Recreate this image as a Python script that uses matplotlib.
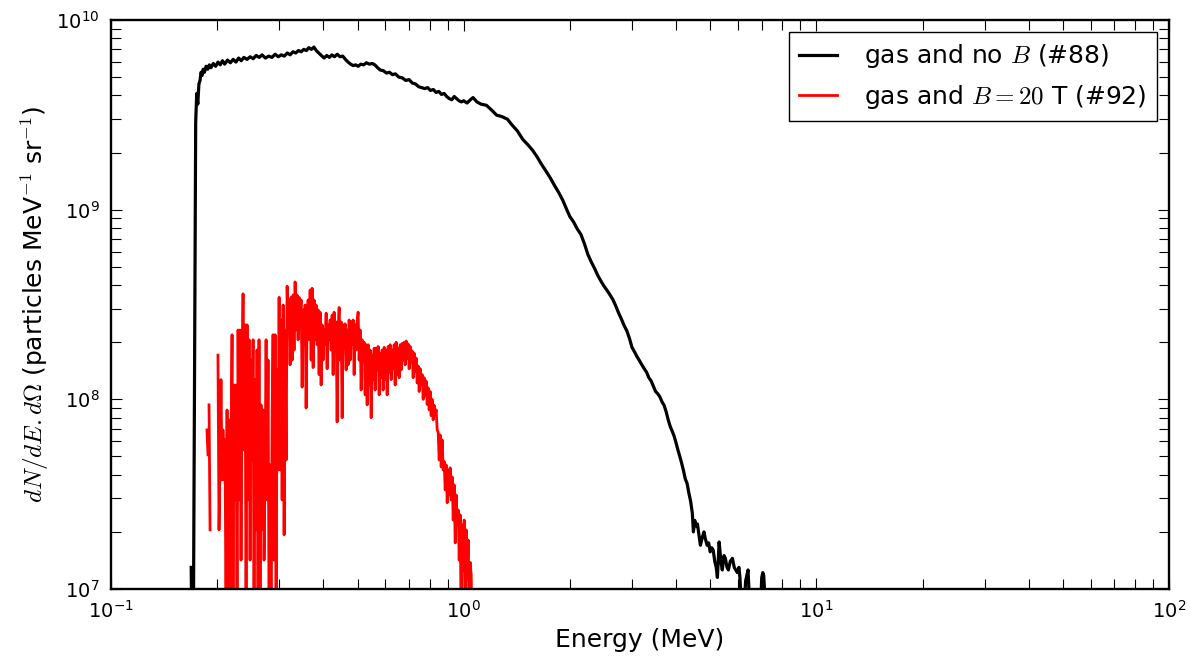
import numpy as np
import matplotlib
matplotlib.use("Agg")
import matplotlib.pyplot as plt

# old-style look: cm math, inward ticks on every side
plt.rcParams['mathtext.fontset'] = 'cm'
plt.rcParams['font.family'] = ['DejaVu Sans']
plt.rcParams['axes.unicode_minus'] = False

nan = np.nan

# spectrum without magnetic field (#88)
black_energy = [
    0.1688, 0.1694, 0.1712, 0.1738, 0.1750, 0.1762, 0.1775, 0.1788, 0.1800, 0.1812,
    0.1825, 0.184, 0.186, 0.188, 0.190, 0.192, 0.195, 0.198, 0.201, 0.204,
    0.207, 0.210, 0.214, 0.218, 0.222, 0.226, 0.230, 0.234, 0.238, 0.243,
    0.248, 0.253, 0.258, 0.263, 0.268, 0.274, 0.280, 0.286, 0.292, 0.298,
    0.304, 0.310, 0.316, 0.322, 0.328, 0.334, 0.340, 0.346, 0.352, 0.358,
    0.364, 0.370, 0.376, 0.382, 0.388, 0.395, 0.402, 0.409, 0.416, 0.423,
    0.430, 0.438, 0.446, 0.454, 0.462, 0.470, 0.478, 0.486, 0.494, 0.502,
    0.511, 0.520, 0.530, 0.540, 0.550, 0.560, 0.570, 0.580, 0.592, 0.604,
    0.616, 0.628, 0.640, 0.655, 0.670, 0.685, 0.700, 0.715, 0.730, 0.745,
    0.760, 0.775, 0.790, 0.805, 0.820, 0.835, 0.850, 0.865, 0.880, 0.895,
    0.910, 0.925, 0.940, 0.955, 0.970, 0.985, 1.000, 1.022, 1.045, 1.063,
    1.09, 1.12, 1.16, 1.20, 1.24, 1.28, 1.33, 1.37, 1.42, 1.47,
    1.52, 1.57, 1.62, 1.66, 1.71, 1.76, 1.81, 1.86, 1.91, 1.96,
    2.00, 2.05, 2.10, 2.15, 2.20, 2.25, 2.30, 2.35, 2.40, 2.45,
    2.50, 2.55, 2.60, 2.65, 2.70, 2.75, 2.80, 2.85, 2.90, 2.95,
    3.00, 3.05, 3.10, 3.15, 3.20, 3.25, 3.30, 3.35, 3.40, 3.45,
    3.50, 3.55, 3.60, 3.65, 3.70, 3.75, 3.80, 3.85, 3.90, 3.95,
    4.00, 4.05, 4.10, 4.15, 4.20, 4.25, 4.30, 4.35, 4.40, 4.45,
    4.48, 4.52, 4.56, 4.60, 4.65, 4.69, 4.74, 4.80, 4.84, 4.90,
    4.95, 5.00, 5.05, 5.10, 5.15, 5.20, 5.24, 5.30, 5.36, 5.41,
    5.47, 5.52, 5.58, 5.63, 5.70, 5.78, 5.85, 5.92, 5.97, 6.03,
    6.07, 6.19, 6.30, 6.40, 6.52, 6.90, 7.00, 7.05, 7.09, 7.23,
]
black_dn = [
    1.3e7, 6e6, 6e6, 2.9e9, 4.1e9, 3.6e9, 4.6e9, 4.8e9, 5.3e9, 5.1e9,
    5.5e9, 5.3e9, 5.7e9, 5.5e9, 5.8e9, 5.6e9, 5.9e9, 5.7e9, 6.0e9, 5.8e9,
    6.1e9, 5.85e9, 6.15e9, 5.95e9, 6.2e9, 6.0e9, 6.3e9, 6.1e9, 6.35e9, 6.2e9,
    6.4e9, 6.25e9, 6.5e9, 6.35e9, 6.55e9, 6.3e9, 6.45e9, 6.35e9, 6.6e9, 6.4e9,
    6.55e9, 6.45e9, 6.7e9, 6.55e9, 6.8e9, 6.7e9, 6.9e9, 6.8e9, 7.0e9, 6.9e9,
    7.15e9, 7.0e9, 7.2e9, 6.9e9, 6.7e9, 6.5e9, 6.3e9, 6.5e9, 6.35e9, 6.55e9,
    6.4e9, 6.6e9, 6.4e9, 6.45e9, 6.2e9, 6.0e9, 5.85e9, 5.75e9, 5.8e9, 5.7e9,
    5.85e9, 5.8e9, 5.95e9, 5.85e9, 5.9e9, 5.8e9, 5.6e9, 5.45e9, 5.4e9, 5.25e9,
    5.3e9, 5.15e9, 5.2e9, 5.0e9, 4.95e9, 4.8e9, 4.85e9, 4.65e9, 4.6e9, 4.45e9,
    4.4e9, 4.35e9, 4.4e9, 4.25e9, 4.3e9, 4.15e9, 4.2e9, 4.05e9, 4.1e9, 3.95e9,
    3.85e9, 3.8e9, 3.95e9, 3.85e9, 3.75e9, 3.7e9, 3.75e9, 3.65e9, 3.8e9, 3.9e9,
    3.7e9, 3.6e9, 3.55e9, 3.35e9, 3.15e9, 3.1e9, 3.0e9, 2.8e9, 2.6e9, 2.35e9,
    2.2e9, 2.05e9, 1.88e9, 1.74e9, 1.6e9, 1.47e9, 1.34e9, 1.23e9, 1.12e9, 1.0e9,
    9.2e8, 8.6e8, 7.9e8, 7.4e8, 6.6e8, 5.8e8, 5.3e8, 4.9e8, 4.5e8, 4.2e8,
    3.95e8, 3.75e8, 3.55e8, 3.35e8, 3.1e8, 2.85e8, 2.65e8, 2.45e8, 2.3e8, 2.1e8,
    1.88e8, 1.78e8, 1.68e8, 1.6e8, 1.52e8, 1.45e8, 1.39e8, 1.3e8, 1.25e8, 1.17e8,
    1.1e8, 1.07e8, 1.03e8, 9.7e7, 9.3e7, 8.6e7, 7.8e7, 7.2e7, 6.8e7, 6.4e7,
    5.9e7, 5.4e7, 5.0e7, 4.6e7, 4.2e7, 3.8e7, 3.6e7, 3.2e7, 2.9e7, 2.5e7,
    2.0e7, 2.3e7, 2.15e7, 2.2e7, 1.9e7, 1.7e7, 1.85e7, 2.0e7, 1.85e7, 1.7e7,
    1.75e7, 1.57e7, 1.65e7, 1.6e7, 1.4e7, 1.3e7, 1.15e7, 1.77e7, 1.4e7, 1.26e7,
    1.5e7, 1.45e7, 1.3e7, 1.26e7, 1.4e7, 1.45e7, 1.3e7, 1.25e7, 1.22e7, 1.3e7,
    1.15e7, 6e6, 1.1e7, 1.26e7, 6e6, 6e6, 1.15e7, 1.22e7, 1.18e7, 6e6,
]

# spectrum with B = 20 T (#92), nan = empty bin
red_energy = [
    0.1871, 0.1883, 0.1890, 0.1896, 0.1909, 0.1950, 0.2010, 0.2024, 0.2037, 0.2050,
    0.2064, 0.2077, 0.2091, 0.2105, 0.2119, 0.2133, 0.2147, 0.2161, 0.2175, 0.2189,
    0.2204, 0.2218, 0.2233, 0.2247, 0.2262, 0.2277, 0.2292, 0.2307, 0.2322, 0.2337,
    0.2353, 0.2368, 0.2384, 0.2399, 0.2415, 0.2431, 0.2447, 0.2463, 0.2479, 0.2495,
    0.2511, 0.2528, 0.2544, 0.2561, 0.2578, 0.2594, 0.2611, 0.2628, 0.2646, 0.2663,
    0.2680, 0.2698, 0.2716, 0.2734, 0.2752, 0.2770, 0.2788, 0.2806, 0.2825, 0.2843,
    0.2862, 0.2880, 0.2899, 0.2919, 0.2938, 0.2957, 0.2976, 0.2996, 0.3016, 0.3036,
    0.3056, 0.3076, 0.3096, 0.3116, 0.3137, 0.3157, 0.3178, 0.3199, 0.3219, 0.3240,
    0.3262, 0.3283, 0.3304, 0.3326, 0.3348, 0.3370, 0.3392, 0.3414, 0.3437, 0.3459,
    0.3482, 0.3505, 0.3528, 0.3551, 0.3574, 0.3598, 0.3621, 0.3645, 0.3669, 0.3693,
    0.3717, 0.3742, 0.3766, 0.3790, 0.3815, 0.3840, 0.3865, 0.3890, 0.3916, 0.3942,
    0.3967, 0.3993, 0.4020, 0.4046, 0.4073, 0.4099, 0.4126, 0.4153, 0.4181, 0.4208,
    0.4236, 0.4263, 0.4291, 0.4320, 0.4348, 0.4376, 0.4405, 0.4434, 0.4463, 0.4492,
    0.4522, 0.4551, 0.4581, 0.4611, 0.4641, 0.4672, 0.4702, 0.4733, 0.4764, 0.4795,
    0.4827, 0.4858, 0.4890, 0.4922, 0.4954, 0.4987, 0.5019, 0.5052, 0.5086, 0.5119,
    0.5153, 0.5186, 0.5220, 0.5255, 0.5289, 0.5324, 0.5359, 0.5394, 0.5429, 0.5465,
    0.5501, 0.5537, 0.5573, 0.5609, 0.5646, 0.5683, 0.5720, 0.5758, 0.5796, 0.5834,
    0.5872, 0.5910, 0.5949, 0.5988, 0.6027, 0.6067, 0.6107, 0.6147, 0.6187, 0.6227,
    0.6268, 0.6309, 0.6350, 0.6392, 0.6434, 0.6476, 0.6518, 0.6561, 0.6605, 0.6648,
    0.6692, 0.6736, 0.6780, 0.6824, 0.6869, 0.6914, 0.6959, 0.7004, 0.7050, 0.7096,
    0.7143, 0.7189, 0.7236, 0.7285, 0.7332, 0.7380, 0.7428, 0.7477, 0.7526, 0.7575,
    0.7625, 0.7675, 0.7725, 0.7776, 0.7827, 0.7878, 0.7930, 0.7981, 0.8034, 0.8086,
    0.8139, 0.8193, 0.8247, 0.8301, 0.8355, 0.8410, 0.8465, 0.8520, 0.8577, 0.8633,
    0.8689, 0.8746, 0.8803, 0.8862, 0.8920, 0.8978, 0.9037, 0.9096, 0.9156, 0.9216,
    0.9276, 0.9337, 0.9398, 0.9460, 0.9522, 0.9584, 0.9647, 0.9710, 0.9774, 0.9838,
    0.9902, 0.9967, 1.0033, 1.0099, 1.0165, 1.0231, 1.0298, 1.0366, 1.0434, 1.050,
    1.057,
]
red_dn = [
    6.9e7, 5.1e7, nan, 9.35e7, 2.05e7, nan, 1.71e8, 2.05e7, 4.24e7, 1.27e8,
    3.76e7, 6.9e7, 3.76e7, 6.11e7, 6e6, 8.79e7, 6e6, 7.78e7, 6e6, 6.11e7,
    2.19e8, 6e6, 1.19e8, 2.95e7, 1.19e8, 6e6, 2.32e8, 2.95e7, 2.32e8, 1.42e7,
    1.43e8, 3.6e8, 5.41e7, 2.47e8, 6e6, 2.47e8, 2.95e7, 2.06e8, 1.42e7, 1.61e8,
    4.79e7, 2.06e8, 6e6, 1.27e8, 2.05e7, 1.82e8, 6e6, 2.06e8, 6e6, 9.35e7,
    2.05e7, 8.79e7, 1.42e7, 4.24e7, 2.06e8, 2.95e7, 1.61e8, 6e6, 4.51e7, 6e6,
    7.78e7, 2.19e8, 1.42e7, 2.19e8, 6e6, 1.43e8, 4.24e7, 3.45e8, 4.24e7, 2.62e8,
    2.95e7, 3.14e8, 1.93e7, 2.32e8, 4.79e7, 3.95e8, 2.32e8, 3.34e8, 1.52e8, 3.45e8,
    1.61e8, 3.55e8, 1.82e8, 4.16e8, 2.32e8, 3.55e8, 2.06e8, 3.45e8, 2.62e8, 3.34e8,
    1.16e8, 2.96e8, 1.94e8, 3.14e8, 9.0e7, 2.62e8, 3.34e8, 2.06e8, 3.77e8, 1.61e8,
    3.85e8, 1.47e8, 3.34e8, 2.06e8, 3.14e8, 1.94e8, 2.96e8, 1.35e8, 2.88e8, 1.19e8,
    2.47e8, 1.61e8, 2.32e8, 1.94e8, 2.85e8, 1.45e8, 2.47e8, 2.06e8, 2.62e8, 1.82e8,
    2.78e8, 1.35e8, 2.88e8, 2.06e8, 2.56e8, 7.6e7, 2.32e8, 3.05e8, 1.61e8, 2.56e8,
    8.0e7, 2.47e8, 1.94e8, 2.5e8, 1.43e8, 2.32e8, 1.52e8, 2.62e8, 1.61e8, 2.56e8,
    1.94e8, 2.62e8, 1.35e8, 2.47e8, 1.82e8, 2.56e8, 2.88e8, 1.61e8, 2.32e8, 1.12e8,
    2.06e8, 1.71e8, 2.0e8, 1.055e8, 1.94e8, 9.35e7, 1.94e8, 1.19e8, 1.82e8, 8.0e7,
    1.71e8, 1.27e8, 1.86e8, 1.12e8, 1.86e8, 1.43e8, 1.9e8, 1.055e8, 1.75e8, 1.3e8,
    1.82e8, 1.12e8, 1.88e8, 1.27e8, 1.82e8, 1.055e8, 1.9e8, 1.39e8, 1.94e8, 1.27e8,
    1.82e8, 1.45e8, 1.94e8, 1.19e8, 2.0e8, 1.35e8, 1.86e8, 1.3e8, 1.94e8, 1.43e8,
    1.97e8, 1.61e8, 2.0e8, 1.52e8, 2.03e8, 1.64e8, 1.96e8, 1.45e8, 1.9e8, 1.57e8,
    1.8e8, 1.3e8, 1.75e8, 1.4e8, 1.65e8, 1.22e8, 1.5e8, 1.1e8, 1.45e8, 1.2e8,
    1.35e8, 1.0e8, 1.3e8, 1.05e8, 1.25e8, 9.4e7, 1.15e8, 8.8e7, 1.1e8, 8.2e7,
    1.0e8, 7.8e7, 9.3e7, 8.3e7, 8.8e7, 6.9e7, 6.7e7, 4.79e7, 6.49e7, 4.4e7,
    6.11e7, 4.24e7, 4.7e7, 3.33e7, 4.51e7, 2.85e7, 4.24e7, 3.13e7, 4.35e7, 2.95e7,
    3.9e7, 2.31e7, 3.54e7, 1.75e7, 3.13e7, 2.18e7, 2.61e7, 1.42e7, 2.46e7, 6e6,
    2.18e7, 1.26e7, 2.31e7, 6e6, 2.05e7, 1.12e7, 1.81e7, 6e6, 1.38e7, 1.19e7,
    6e6,
]

fig = plt.figure(figsize=(11.9, 6.6), dpi=100)
ax = fig.add_axes([0.0933, 0.1076, 0.8891, 0.8621])

ax.plot(black_energy, black_dn, color='k', lw=2.3, label='gas and no $B$ (#88)')
ax.plot(red_energy, red_dn, color='r', lw=2.0, label='gas and $B=20$ T (#92)')

ax.set_xscale('log')
ax.set_yscale('log')
ax.set_xlim(0.1, 100)
ax.set_ylim(1e7, 1e10)

ax.tick_params(which='both', direction='in', top=True, right=True, width=0.8)
ax.tick_params(which='major', length=8, labelsize=14, pad=8)
ax.tick_params(which='minor', length=7)
for sp in ax.spines.values():
    sp.set_linewidth(1.7)

ax.set_xlabel('Energy (MeV)', fontsize=18)
ax.set_ylabel(r'$dN/dE.d\Omega$ (particles MeV$^{-1}$ sr$^{-1}$)', fontsize=18)

leg = ax.legend(loc='upper right', fontsize=18, handlelength=1.5, handletextpad=1.1,
                fancybox=False, framealpha=1, edgecolor='k', borderpad=0.4)
leg.get_frame().set_linewidth(1.0)

fig.savefig('out.png', dpi=100)
